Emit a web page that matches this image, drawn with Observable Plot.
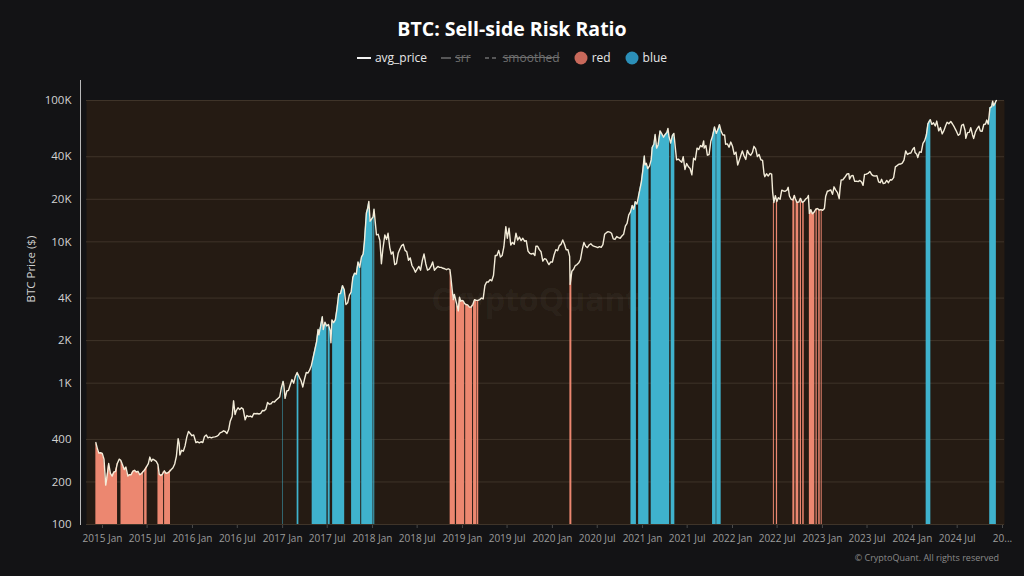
<!DOCTYPE html>
<html>
<head>
<meta charset="utf-8">
<script src="https://cdn.jsdelivr.net/npm/d3@7"></script>
<script src="https://cdn.jsdelivr.net/npm/@observablehq/plot@0.6"></script>
<style>
  html, body { margin: 0; padding: 0; background: #131315; width: 1024px; height: 576px; overflow: hidden; font-family: "Open Sans", "DejaVu Sans", sans-serif; }
  #wrap { position: relative; width: 1024px; height: 576px; }
  #title { position: absolute; top: 13px; left: 0; width: 1024px; text-align: center; color: #ffffff; font-size: 19.5px; font-weight: 700; line-height: 32px; }
  #legend { position: absolute; top: 48px; left: 0; width: 1024px; display: flex; justify-content: center; align-items: center; font-size: 12px; line-height: 20px; color: #e8e8e8; }
  #legend .item { display: flex; align-items: center; margin: 0 7px; }
  #legend .off { color: #6e6e6e; text-decoration: line-through; }
  #legend svg { margin-right: 4px; }
  #chart { position: absolute; top: 75px; left: 0; }
  #vline { position: absolute; left: 80px; top: 80px; width: 1px; height: 445px; background: #b9b9b9; }
  #caption { position: absolute; right: 25px; top: 551px; font-size: 9px; color: #8a8a8a; }
  #chart svg g[aria-label^="y-axis"] text { fill: #d2d2d2; font-size: 11.5px; }
  #chart svg g[aria-label^="x-axis"] text { fill: #9c9c9c; font-size: 10px; }
  #chart svg g[aria-label^="x-axis"] path, #chart svg g[aria-label^="x-axis"] line { stroke: #4a4a4a; }
</style>
</head>
<body>
<div id="wrap">
  <div id="title">BTC: Sell-side Risk Ratio</div>
  <div id="legend">
    <div class="item"><svg width="14" height="4"><line x1="0" y1="2" x2="14" y2="2" stroke="#f2f2f2" stroke-width="2"/></svg><span>avg_price</span></div>
    <div class="item"><svg width="10" height="4"><line x1="0" y1="2" x2="10" y2="2" stroke="#6e6e6e" stroke-width="1.5"/></svg><span class="off">srr</span></div>
    <div class="item"><svg width="14" height="4"><line x1="0" y1="2" x2="14" y2="2" stroke="#6e6e6e" stroke-width="1.5" stroke-dasharray="4,3"/></svg><span class="off">smoothed</span></div>
    <div class="item"><svg width="14" height="14"><circle cx="7" cy="7" r="6.5" fill="#c8695b"/></svg><span>red</span></div>
    <div class="item"><svg width="14" height="14"><circle cx="7" cy="7" r="6.5" fill="#2b8fb8"/></svg><span>blue</span></div>
  </div>
  <div id="chart"></div>
  <div id="vline"></div>
  <div id="caption">© CryptoQuant. All rights reserved</div>
</div>
<script>
// ---- data ----
const avgPrice = [
["2014-12-05",380],["2014-12-10",350],["2014-12-17",320],["2014-12-24",322],["2014-12-31",318],
["2015-01-07",290],["2015-01-14",190],["2015-01-18",210],["2015-01-26",270],["2015-02-02",230],["2015-02-09",220],["2015-02-16",235],["2015-02-23",238],
["2015-03-02",270],["2015-03-10",290],["2015-03-16",285],["2015-03-23",265],["2015-03-30",245],["2015-04-06",255],["2015-04-14",220],["2015-04-20",225],["2015-04-27",225],
["2015-05-04",238],["2015-05-11",242],["2015-05-18",235],["2015-05-25",238],["2015-06-01",225],["2015-06-08",229],["2015-06-15",237],["2015-06-22",245],["2015-06-29",257],
["2015-07-06",270],["2015-07-12",300],["2015-07-18",280],["2015-07-24",290],["2015-07-31",285],["2015-08-07",280],["2015-08-14",265],["2015-08-19",228],["2015-08-26",222],
["2015-09-02",228],["2015-09-09",240],["2015-09-16",230],["2015-09-23",232],["2015-09-30",237],["2015-10-07",245],["2015-10-14",252],["2015-10-21",268],["2015-10-28",305],
["2015-11-04",405],["2015-11-08",375],["2015-11-11",310],["2015-11-18",335],["2015-11-25",330],["2015-12-02",360],["2015-12-09",415],["2015-12-16",455],["2015-12-23",440],["2015-12-30",425],
["2016-01-06",430],["2016-01-15",380],["2016-01-22",385],["2016-01-29",378],["2016-02-05",385],["2016-02-12",380],["2016-02-19",420],["2016-02-26",430],["2016-03-04",410],["2016-03-11",415],
["2016-03-18",410],["2016-03-25",415],["2016-04-01",417],["2016-04-08",420],["2016-04-15",428],["2016-04-22",445],["2016-04-29",450],["2016-05-06",460],["2016-05-13",455],["2016-05-20",440],
["2016-05-27",470],["2016-06-02",535],["2016-06-10",580],["2016-06-16",750],["2016-06-22",600],["2016-06-27",640],["2016-07-04",670],["2016-07-11",650],["2016-07-18",670],["2016-07-25",655],
["2016-08-02",550],["2016-08-09",590],["2016-08-16",580],["2016-08-23",585],["2016-08-30",575],["2016-09-06",610],["2016-09-13",608],["2016-09-20",610],["2016-09-27",605],["2016-10-04",612],
["2016-10-11",640],["2016-10-18",638],["2016-10-25",655],["2016-11-01",730],["2016-11-08",710],["2016-11-15",715],["2016-11-22",740],["2016-11-29",735],["2016-12-06",760],["2016-12-13",780],
["2016-12-20",800],["2016-12-27",930],["2017-01-03",1030],["2017-01-06",960],["2017-01-11",780],["2017-01-18",880],["2017-01-25",890],["2017-02-01",975],["2017-02-08",1060],["2017-02-15",1000],
["2017-02-22",1120],["2017-03-01",1190],["2017-03-10",1100],["2017-03-17",1040],["2017-03-24",940],["2017-03-31",1070],["2017-04-07",1190],["2017-04-14",1180],["2017-04-21",1240],["2017-04-28",1340],
["2017-05-05",1520],["2017-05-12",1730],["2017-05-19",1970],["2017-05-25",2400],["2017-05-28",2200],["2017-06-04",2520],["2017-06-11",2950],["2017-06-15",2400],["2017-06-22",2700],["2017-06-29",2540],
["2017-07-06",2600],["2017-07-13",2350],["2017-07-16",1930],["2017-07-20",2800],["2017-07-27",2680],["2017-08-03",2800],["2017-08-10",3400],["2017-08-17",4300],["2017-08-24",4300],["2017-09-01",4900],
["2017-09-08",4600],["2017-09-15",3600],["2017-09-22",3700],["2017-09-29",4200],["2017-10-06",4400],["2017-10-13",5600],["2017-10-20",6000],["2017-10-27",5900],["2017-11-03",7200],["2017-11-10",6600],
["2017-11-17",7800],["2017-11-24",8200],["2017-11-29",10000],["2017-12-07",16000],["2017-12-12",17200],["2017-12-17",19300],["2017-12-22",14000],["2017-12-28",14500],["2018-01-03",15000],["2018-01-07",17000],
["2018-01-12",13800],["2018-01-17",11200],["2018-01-24",11300],["2018-01-31",10200],["2018-02-06",7000],["2018-02-12",8900],["2018-02-20",11200],["2018-02-27",10400],["2018-03-05",11500],["2018-03-12",9100],
["2018-03-18",8200],["2018-03-25",8500],["2018-04-01",6900],["2018-04-08",7000],["2018-04-15",8300],["2018-04-22",8900],["2018-04-29",9400],["2018-05-06",9600],["2018-05-13",8700],["2018-05-20",8500],
["2018-05-27",7400],["2018-06-03",7700],["2018-06-10",6800],["2018-06-17",6500],["2018-06-24",6100],["2018-07-01",6400],["2018-07-08",6700],["2018-07-15",6300],["2018-07-22",7400],["2018-07-29",8200],
["2018-08-05",7000],["2018-08-12",6300],["2018-08-19",6400],["2018-08-26",6700],["2018-09-02",7200],["2018-09-09",6300],["2018-09-16",6500],["2018-09-23",6700],["2018-09-30",6600],["2018-10-07",6600],
["2018-10-14",6500],["2018-10-21",6450],["2018-10-28",6350],["2018-11-04",6450],["2018-11-11",6350],["2018-11-15",5600],["2018-11-20",4600],["2018-11-25",3900],["2018-11-29",4250],["2018-12-05",3850],
["2018-12-10",3550],["2018-12-15",3250],["2018-12-20",4050],["2018-12-25",3800],["2018-12-30",3850],["2019-01-05",3800],["2019-01-10",3650],["2019-01-15",3600],["2019-01-22",3580],["2019-01-29",3450],
["2019-02-05",3450],["2019-02-12",3600],["2019-02-19",3900],["2019-02-26",3850],["2019-03-05",3850],["2019-03-12",3900],["2019-03-19",4000],["2019-03-26",3950],["2019-04-02",4900],["2019-04-09",5200],
["2019-04-16",5200],["2019-04-23",5400],["2019-04-30",5300],["2019-05-07",5800],["2019-05-14",8000],["2019-05-21",8000],["2019-05-28",8700],["2019-06-04",7800],["2019-06-11",8000],["2019-06-18",9200],
["2019-06-26",12800],["2019-07-02",10600],["2019-07-09",12500],["2019-07-16",9500],["2019-07-23",9900],["2019-07-30",9600],["2019-08-06",11500],["2019-08-13",10300],["2019-08-20",10800],["2019-08-27",10200],
["2019-09-03",10600],["2019-09-10",10100],["2019-09-17",10200],["2019-09-24",8600],["2019-10-01",8300],["2019-10-08",8200],["2019-10-15",8300],["2019-10-22",8000],["2019-10-26",9300],["2019-11-02",9300],
["2019-11-09",8800],["2019-11-16",8500],["2019-11-23",7300],["2019-11-30",7600],["2019-12-07",7500],["2019-12-14",7100],["2019-12-18",6900],["2019-12-25",7200],["2020-01-01",7200],["2020-01-08",8100],
["2020-01-15",8800],["2020-01-22",8650],["2020-01-29",9400],["2020-02-05",9600],["2020-02-12",10300],["2020-02-19",9600],["2020-02-26",8800],["2020-03-04",8800],["2020-03-11",7900],["2020-03-13",5000],
["2020-03-20",6200],["2020-03-27",6400],["2020-04-03",6800],["2020-04-10",6900],["2020-04-17",7100],["2020-04-24",7500],["2020-05-01",8800],["2020-05-08",9900],["2020-05-15",9300],["2020-05-22",9100],
["2020-05-29",9500],["2020-06-05",9700],["2020-06-12",9400],["2020-06-19",9300],["2020-06-26",9200],["2020-07-03",9100],["2020-07-10",9250],["2020-07-17",9150],["2020-07-24",9550],["2020-07-31",11300],
["2020-08-07",11600],["2020-08-14",11800],["2020-08-21",11700],["2020-08-28",11500],["2020-09-04",10500],["2020-09-11",10400],["2020-09-18",10900],["2020-09-25",10700],["2020-10-02",10600],["2020-10-09",11000],
["2020-10-16",11300],["2020-10-23",12900],["2020-10-30",13500],["2020-11-06",15500],["2020-11-13",16300],["2020-11-20",18100],["2020-11-26",17000],["2020-12-02",19200],["2020-12-09",18500],["2020-12-16",21300],
["2020-12-21",23500],["2020-12-27",26500],["2021-01-02",32000],["2021-01-08",40500],["2021-01-11",35000],["2021-01-16",36000],["2021-01-22",33000],["2021-01-29",34300],["2021-02-05",38000],["2021-02-09",46500],
["2021-02-16",49000],["2021-02-21",57500],["2021-02-27",46000],["2021-03-05",48500],["2021-03-13",61000],["2021-03-20",58000],["2021-03-27",55000],["2021-04-03",57500],["2021-04-10",59500],["2021-04-14",63500],
["2021-04-18",56000],["2021-04-25",50000],["2021-05-02",56500],["2021-05-08",58500],["2021-05-12",50000],["2021-05-19",38000],["2021-05-26",38500],["2021-06-02",37500],["2021-06-09",36500],["2021-06-15",40000],
["2021-06-22",32500],["2021-06-29",35800],["2021-07-06",34000],["2021-07-13",33000],["2021-07-20",29800],["2021-07-27",39000],["2021-08-03",38000],["2021-08-10",46000],["2021-08-17",45000],["2021-08-24",48000],
["2021-08-31",47000],["2021-09-06",51700],["2021-09-08",46000],["2021-09-15",48000],["2021-09-21",41000],["2021-09-28",41500],["2021-10-05",51500],["2021-10-12",56000],["2021-10-20",65000],["2021-10-27",58500],
["2021-11-03",62500],["2021-11-09",67500],["2021-11-16",60500],["2021-11-23",57000],["2021-11-30",57000],["2021-12-04",49000],["2021-12-11",49300],["2021-12-18",46700],["2021-12-25",50800],["2022-01-01",47500],
["2022-01-08",41600],["2022-01-15",43100],["2022-01-22",35000],["2022-01-29",38000],["2022-02-05",41500],["2022-02-10",44000],["2022-02-17",40500],["2022-02-24",38300],["2022-03-02",44400],["2022-03-09",41900],
["2022-03-16",41000],["2022-03-23",42900],["2022-03-29",47400],["2022-04-05",45500],["2022-04-12",40100],["2022-04-19",41500],["2022-04-26",38100],["2022-05-03",37700],["2022-05-09",30300],["2022-05-12",28900],
["2022-05-19",30300],["2022-05-26",29200],["2022-06-02",30500],["2022-06-09",30100],["2022-06-13",22500],["2022-06-18",19000],["2022-06-24",21200],["2022-06-30",19300],["2022-07-06",20500],["2022-07-13",20000],
["2022-07-20",23200],["2022-07-27",22900],["2022-08-03",22800],["2022-08-10",23200],["2022-08-15",24300],["2022-08-20",21100],["2022-08-27",20000],["2022-09-03",19800],["2022-09-09",21300],["2022-09-13",20200],
["2022-09-20",19000],["2022-09-27",19100],["2022-10-04",20300],["2022-10-11",19000],["2022-10-18",19300],["2022-10-25",20100],["2022-11-01",20500],["2022-11-05",21300],["2022-11-09",15900],["2022-11-15",16900],
["2022-11-21",15800],["2022-11-28",16200],["2022-12-05",17000],["2022-12-12",17200],["2022-12-19",16800],["2022-12-26",16900],["2023-01-02",16700],["2023-01-09",17200],["2023-01-14",20900],["2023-01-21",22800],
["2023-01-28",23000],["2023-02-04",23300],["2023-02-11",21700],["2023-02-17",24500],["2023-02-24",23200],["2023-03-03",22300],["2023-03-10",20200],["2023-03-14",24200],["2023-03-18",27400],["2023-03-25",27500],
["2023-04-01",28500],["2023-04-11",30200],["2023-04-18",30400],["2023-04-21",27800],["2023-04-28",29300],["2023-05-05",29500],["2023-05-12",26800],["2023-05-19",26900],["2023-05-26",26700],["2023-06-02",27200],
["2023-06-09",26500],["2023-06-15",25100],["2023-06-21",30000],["2023-06-28",30100],["2023-07-05",30500],["2023-07-13",31400],["2023-07-20",29900],["2023-07-27",29300],["2023-08-03",29200],["2023-08-10",29400],
["2023-08-17",26600],["2023-08-24",26200],["2023-08-29",27700],["2023-09-05",25800],["2023-09-12",26000],["2023-09-19",27200],["2023-09-26",26200],["2023-10-03",27500],["2023-10-10",27400],["2023-10-17",28500],
["2023-10-24",33900],["2023-10-31",34600],["2023-11-07",35400],["2023-11-14",35500],["2023-11-21",36000],["2023-11-28",37800],["2023-12-05",44000],["2023-12-12",41500],["2023-12-19",42300],["2023-12-26",42500],
["2024-01-02",45000],["2024-01-09",46500],["2024-01-12",42800],["2024-01-19",41600],["2024-01-23",39500],["2024-01-30",43300],["2024-02-06",43000],["2024-02-13",49700],["2024-02-20",52000],["2024-02-27",57000],
["2024-03-04",68300],["2024-03-11",72000],["2024-03-14",73100],["2024-03-20",67800],["2024-03-27",69500],["2024-04-03",66000],["2024-04-09",71500],["2024-04-17",61000],["2024-04-24",64300],["2024-05-01",58000],
["2024-05-08",61200],["2024-05-15",66200],["2024-05-21",70100],["2024-05-28",68400],["2024-06-05",71100],["2024-06-12",68200],["2024-06-19",65000],["2024-06-26",61500],["2024-07-05",56700],["2024-07-12",57900],
["2024-07-19",66700],["2024-07-26",67900],["2024-08-02",61400],["2024-08-05",54000],["2024-08-12",59300],["2024-08-19",59500],["2024-08-25",64200],["2024-09-01",57300],["2024-09-06",53900],["2024-09-13",60000],
["2024-09-20",63200],["2024-09-27",65800],["2024-10-03",60700],["2024-10-10",60600],["2024-10-17",67600],["2024-10-24",68200],["2024-10-29",72700],["2024-11-04",68000],["2024-11-11",88700],["2024-11-18",90500],
["2024-11-22",98900],["2024-11-26",91900],["2024-12-02",95800],["2024-12-05",98700],["2024-12-07",99900]
];

// periods flagged red (low sell-side risk) and blue (high sell-side risk)
const redPeriods = [
["2014-12-05","2015-03-03"],["2015-03-17","2015-06-17"],["2015-06-21","2015-07-01"],["2015-08-14","2015-09-06"],["2015-09-10","2015-10-04"],
["2018-11-12","2018-12-03"],["2018-12-08","2019-01-10"],["2019-01-14","2019-02-11"],["2019-02-15","2019-03-01"],["2019-03-03","2019-03-08"],
["2020-03-12","2020-03-20"],
["2022-06-16","2022-06-20"],["2022-06-28","2022-07-03"],["2022-09-03","2022-09-11"],["2022-09-16","2022-09-27"],["2022-10-03","2022-10-08"],
["2022-10-13","2022-10-19"],["2022-11-09","2022-12-01"],["2022-12-06","2022-12-11"],["2022-12-17","2022-12-23"],["2022-12-27","2022-12-31"]
];
const bluePeriods = [
["2017-01-02","2017-01-04"],["2017-03-01","2017-03-08"],["2017-05-01","2017-06-30"],["2017-07-05","2017-07-13"],["2017-07-23","2017-09-10"],
["2017-10-08","2017-11-14"],["2017-11-18","2018-01-03"],["2018-01-06","2018-01-10"],
["2020-11-15","2020-12-07"],["2020-12-16","2021-01-27"],["2021-02-05","2021-04-21"],["2021-04-27","2021-05-12"],
["2021-10-12","2021-10-27"],["2021-10-29","2021-11-16"],
["2024-02-26","2024-03-16"],["2024-11-10","2024-12-07"]
];

const yTicks = [100, 200, 400, 1000, 2000, 4000, 10000, 20000, 40000, 100000];
const yTickLabels = ["100", "200", "400", "1K", "2K", "4K", "10K", "20K", "40K", "100K"];
const xTickDates = ["2015-01-01","2015-07-01","2016-01-01","2016-07-01","2017-01-01","2017-07-01","2018-01-01","2018-07-01","2019-01-01","2019-07-01",
  "2020-01-01","2020-07-01","2021-01-01","2021-07-01","2022-01-01","2022-07-01","2023-01-01","2023-07-01","2024-01-01","2024-07-01","2025-01-01"];
const xTickLabels = ["2015 Jan","2015 Jul","2016 Jan","2016 Jul","2017 Jan","2017 Jul","2018 Jan","2018 Jul","2019 Jan","2019 Jul",
  "2020 Jan","2020 Jul","2021 Jan","2021 Jul","2022 Jan","2022 Jul","2023 Jan","2023 Jul","2024 Jan","2024 Jul","20..."];

// ---- derived tables ----
const priceData = avgPrice.map(([d, p]) => ({date: new Date(d), price: p}));
const xTicks = xTickDates.map(d => new Date(d));
function nearestPrice(date) {
  let best = priceData[0];
  for (const d of priceData) if (Math.abs(d.date - date) < Math.abs(best.date - date)) best = d;
  return best.price;
}
function bandRows(periods, tag) {
  const rows = [];
  periods.forEach(([s, e], i) => {
    const sd = new Date(s), ed = new Date(e), id = tag + i;
    rows.push({date: sd, price: nearestPrice(sd), base: 100, id});
    priceData.filter(d => d.date > sd && d.date < ed).forEach(d => rows.push({date: d.date, price: d.price, base: 100, id}));
    rows.push({date: ed, price: nearestPrice(ed), base: 100, id});
  });
  return rows;
}
const redRows = bandRows(redPeriods, "r");
const blueRows = bandRows(bluePeriods, "b");
const yTickRows = yTicks.map((v, i) => ({value: v, label: yTickLabels[i]}));

const chart = Plot.plot({
  width: 1024,
  height: 501,
  marginLeft: 86,
  marginRight: 20,
  marginTop: 25,
  marginBottom: 52,
  style: {background: "transparent", color: "#9c9c9c", fontFamily: "Open Sans, DejaVu Sans, sans-serif", fontSize: "11px"},
  x: {type: "utc", domain: [new Date("2014-10-28"), new Date("2025-01-09")], ticks: xTicks,
      tickFormat: d => xTickLabels[xTicks.findIndex(t => +t === +d)], tickSize: 4, tickPadding: 6, label: null},
  y: {type: "log", domain: [100, 100000], axis: null},
  marks: [
    Plot.frame({fill: "#251b13", stroke: null}),
    Plot.ruleY(yTicks, {stroke: "#3f3429", strokeWidth: 1}),
    Plot.text(["CryptoQuant"], {frameAnchor: "middle", dx: -10, dy: -12, fontSize: 32, fontWeight: "bold", fill: "#ffffff", fillOpacity: 0.05}),
    Plot.areaY(redRows, {x: "date", y1: "base", y2: "price", z: "id", fill: "#ec8770"}),
    Plot.areaY(blueRows, {x: "date", y1: "base", y2: "price", z: "id", fill: "#3fb2cd"}),
    Plot.line(priceData, {x: "date", y: "price", stroke: "#f3ecd9", strokeWidth: 1.4}),
    // y-axis tick labels
    Plot.text(yTickRows, {y: "value", text: "label", frameAnchor: "left", dx: -15, textAnchor: "end", fill: "#d2d2d2", fontSize: 11.5}),
    Plot.text(["BTC Price ($)"], {frameAnchor: "left", dx: -55, dy: -10, rotate: -90, fill: "#cfcfcf", fontSize: 11.5})
  ]
});
document.getElementById("chart").appendChild(chart);
</script>
</body>
</html>
